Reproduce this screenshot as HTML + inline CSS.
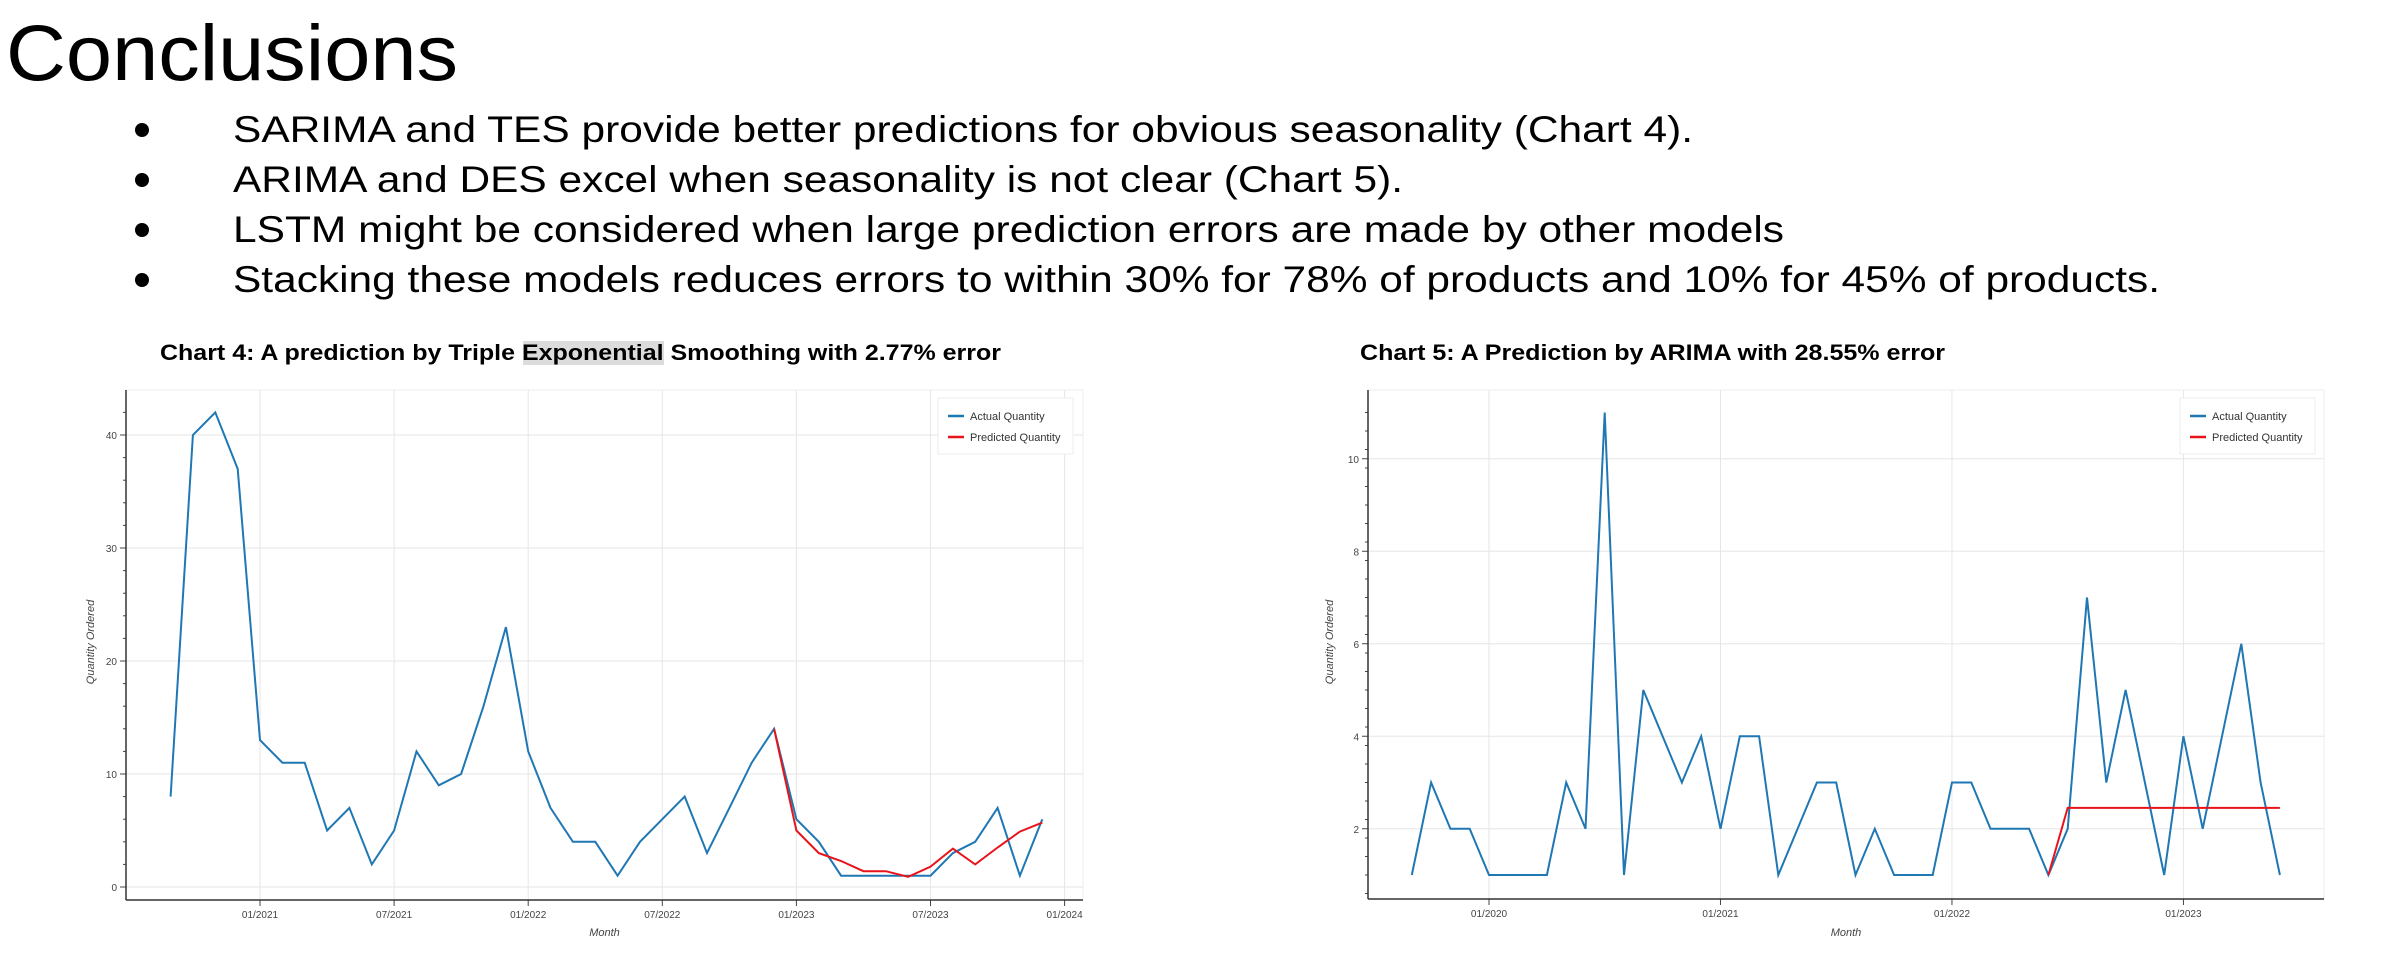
<!DOCTYPE html>
<html><head><meta charset="utf-8"><style>
html,body{margin:0;padding:0;background:#fff;}
svg{display:block;font-family:"Liberation Sans",Arial,sans-serif;}
</style></head><body>
<svg id="s" width="2390" height="970" viewBox="0 0 2390 970" xmlns="http://www.w3.org/2000/svg">
<rect width="2390" height="970" fill="#fff"/>
<text x="6" y="80" font-size="79" fill="#000" textLength="452" lengthAdjust="spacingAndGlyphs">Conclusions</text>
<g font-size="37" fill="#000">
<circle cx="142" cy="130" r="7"/><circle cx="142" cy="180" r="7"/><circle cx="142" cy="230" r="7"/><circle cx="142" cy="280" r="7"/>
<text x="233" y="142" textLength="1460" lengthAdjust="spacingAndGlyphs">SARIMA and TES provide better predictions for obvious seasonality (Chart 4).</text>
<text x="233" y="192" textLength="1170" lengthAdjust="spacingAndGlyphs">ARIMA and DES excel when seasonality is not clear (Chart 5).</text>
<text x="233" y="242" textLength="1551" lengthAdjust="spacingAndGlyphs">LSTM might be considered when large prediction errors are made by other models</text>
<text x="233" y="292" textLength="1927" lengthAdjust="spacingAndGlyphs">Stacking these models reduces errors to within 30% for 78% of products and 10% for 45% of products.</text>
</g>
<rect x="523" y="341" width="141" height="24" fill="#dcdcdc"/>
<text x="160" y="360" font-size="22" font-weight="bold" textLength="841" lengthAdjust="spacingAndGlyphs">Chart 4: A prediction by Triple Exponential Smoothing with 2.77% error</text>
<text x="1360" y="360" font-size="22" font-weight="bold" textLength="585" lengthAdjust="spacingAndGlyphs">Chart 5: A Prediction by ARIMA with 28.55% error</text>
<g id="c4"></g><g id="c5"></g>
</svg>
<script>
var NS="http://www.w3.org/2000/svg";
function el(p,t,a,txt){var e=document.createElementNS(NS,t);for(var k in a)e.setAttribute(k,a[k]);if(txt!=null)e.textContent=txt;p.appendChild(e);return e;}
function chart(g,o){
 // frame
 el(g,"rect",{x:o.L,y:o.T,width:o.R-o.L,height:o.B-o.T,fill:"none",stroke:"#eeeeee","stroke-width":1});
 o.yt.forEach(function(v){var y=o.Y(v);el(g,"line",{x1:o.L,x2:o.R,y1:y,y2:y,stroke:"#e6e6e6","stroke-width":1});
  el(g,"line",{x1:o.L-6,x2:o.L,y1:y,y2:y,stroke:"#444"});
  el(g,"text",{x:o.L-9,y:y+4,"font-size":10,"text-anchor":"end",fill:"#444"},String(v));});
 o.ym.forEach(function(v){var y=o.Y(v);el(g,"line",{x1:o.L-3,x2:o.L,y1:y,y2:y,stroke:"#444"});});
 o.xt.forEach(function(t){var x=o.X(t[0]);el(g,"line",{x1:x,x2:x,y1:o.T,y2:o.B,stroke:"#e6e6e6"});
  el(g,"line",{x1:x,x2:x,y1:o.B,y2:o.B+6,stroke:"#444"});
  el(g,"text",{x:x,y:o.B+18,"font-size":10,"text-anchor":"middle",fill:"#444"},t[1]);});
 el(g,"line",{x1:o.L,x2:o.L,y1:o.T,y2:o.B,stroke:"#333","stroke-width":1.5});
 el(g,"line",{x1:o.L,x2:o.R,y1:o.B,y2:o.B,stroke:"#333","stroke-width":1.5});
 var p="";o.a.forEach(function(v,i){p+=(i?"L":"M")+o.X(o.a0+i).toFixed(1)+" "+o.Y(v).toFixed(1);});
 el(g,"path",{d:p,fill:"none",stroke:"#1f77b4","stroke-width":2});
 p="";o.p.forEach(function(v,i){p+=(i?"L":"M")+o.X(o.p0+i).toFixed(1)+" "+o.Y(v).toFixed(1);});
 el(g,"path",{d:p,fill:"none",stroke:"#e8141b","stroke-width":2});
 var lx=o.lg[0],lw=o.lg[1];
 el(g,"rect",{x:lx,y:398,width:lw,height:56,fill:"#fff",stroke:"#ececec"});
 el(g,"line",{x1:lx+10,x2:lx+26,y1:416,y2:416,stroke:"#1f77b4","stroke-width":2.5});
 el(g,"line",{x1:lx+10,x2:lx+26,y1:437,y2:437,stroke:"#e8141b","stroke-width":2.5});
 el(g,"text",{x:lx+32,y:420,"font-size":11,fill:"#333"},"Actual Quantity");
 el(g,"text",{x:lx+32,y:441,"font-size":11,fill:"#333"},"Predicted Quantity");
 el(g,"text",{x:(o.L+o.R)/2,y:936,"font-size":11,"font-style":"italic","text-anchor":"middle",fill:"#444"},"Month");
 el(g,"text",{x:0,y:0,"font-size":11,"font-style":"italic","text-anchor":"middle",fill:"#444",transform:"translate("+o.yl+",642) rotate(-90)"},"Quantity Ordered");
}
var ym4=[];for(var v=0;v<=42;v+=2)ym4.push(v);
chart(document.getElementById("c4"),{L:126,R:1083,T:390,B:900,
 X:function(m){return 260+m*22.35;},Y:function(v){return 887-v*11.3;},
 yt:[0,10,20,30,40],ym:ym4,
 xt:[[0,"01/2021"],[6,"07/2021"],[12,"01/2022"],[18,"07/2022"],[24,"01/2023"],[30,"07/2023"],[36,"01/2024"]],
 a0:-4,a:[8,40,42,37,13,11,11,5,7,2,5,12,9,10,16,23,12,7,4,4,1,4,6,8,3,7,11,14,6,4,1,1,1,1,1,3,4,7,1,6],
 p0:23,p:[14,5,3,2.3,1.4,1.4,0.9,1.8,3.4,2,3.5,4.9,5.7],lg:[938,135],yl:94});
var ym5=[];for(var v=0.6;v<=11.3;v+=0.4)ym5.push(v);
chart(document.getElementById("c5"),{L:1368,R:2324,T:390,B:899,
 X:function(m){return 1489+m*19.29;},Y:function(v){return 875-(v-1)*46.25;},
 yt:[2,4,6,8,10],ym:ym5,
 xt:[[0,"01/2020"],[12,"01/2021"],[24,"01/2022"],[36,"01/2023"]],
 a0:-4,a:[1,3,2,2,1,1,1,1,3,2,11,1,5,4,3,4,2,4,4,1,2,3,3,1,2,1,1,1,3,3,2,2,2,1,2,7,3,5,3,1,4,2,4,6,3,1],
 p0:29,p:[1,2.45,2.45,2.45,2.45,2.45,2.45,2.45,2.45,2.45,2.45,2.45,2.45],lg:[2180,135],yl:1333});
</script>
</body></html>
